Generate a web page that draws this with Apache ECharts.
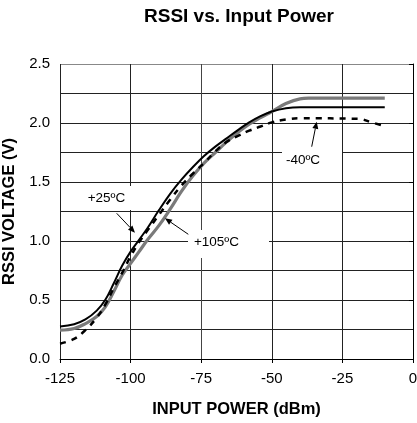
<!DOCTYPE html>
<html>
<head>
<meta charset="utf-8">
<script src="https://cdn.jsdelivr.net/npm/echarts@6/dist/echarts.min.js"></script>
<style>
html,body{margin:0;padding:0;background:#fff;}
#chart{width:417px;height:423px;}
</style>
</head>
<body>
<div id="chart"></div>
<script>
// ---- data ----
const xTicks = [-125, -100, -75, -50, -25, 0];
const yTicks = [0.0, 0.5, 1.0, 1.5, 2.0, 2.5];

const p25Power = [-125, -120, -116, -112, -109, -106, -103, -100, -97, -94, -90, -86, -82, -78, -74, -70, -66, -62, -58, -54, -50, -45, -40, -10];
const p25Volt  = [0.276, 0.295, 0.335, 0.41, 0.50, 0.64, 0.79, 0.91, 1.01, 1.11, 1.26, 1.40, 1.52, 1.625, 1.72, 1.80, 1.87, 1.94, 2.005, 2.058, 2.097, 2.125, 2.134, 2.134];

const p105Power = [-125, -120, -116, -112, -109, -106, -103, -100, -97, -94, -90, -86, -82, -78, -74, -70, -66, -62, -58, -54, -50, -45, -40, -37, -10];
const p105Volt  = [0.244, 0.258, 0.30, 0.36, 0.44, 0.57, 0.71, 0.81, 0.91, 1.01, 1.13, 1.27, 1.42, 1.55, 1.66, 1.75, 1.84, 1.92, 1.99, 2.045, 2.097, 2.165, 2.205, 2.21, 2.21];

const m40Power = [-125, -120, -116, -112, -109, -106, -103, -100, -97, -94, -90, -86, -82, -78, -74, -70, -66, -62, -58, -54, -50, -45, -40, -19, -15, -10.7];
const m40Volt  = [0.13, 0.17, 0.245, 0.35, 0.46, 0.60, 0.73, 0.87, 0.99, 1.09, 1.22, 1.35, 1.47, 1.57, 1.66, 1.76, 1.84, 1.89, 1.935, 1.97, 2.005, 2.03, 2.04, 2.035, 2.007, 1.978];

const labels = { t25: '+25ºC', t105: '+105ºC', tm40: '-40ºC' };

function pairs(xs, ys){ return xs.map((x,i)=>[x, ys[i]]); }

const FONT = 'Liberation Sans, Arial, sans-serif';
const chart = echarts.init(document.getElementById('chart'), null, {renderer:'canvas'});

function arrow(x1,y1,x2,y2){
  const ang = Math.atan2(y2-y1, x2-x1);
  const L = 7, W = 3;
  const bx = x2 - L*Math.cos(ang), by = y2 - L*Math.sin(ang);
  const px = -Math.sin(ang)*W, py = Math.cos(ang)*W;
  return [
    {type:'line', z:5, shape:{x1:x1,y1:y1,x2:bx,y2:by}, style:{stroke:'#000', lineWidth:1}},
    {type:'polygon', z:5, shape:{points:[[x2,y2],[bx+px,by+py],[bx-px,by-py]]}, style:{fill:'#000'}}
  ];
}

const option = {
  animation:false,
  backgroundColor:'#fff',
  title:{
    text:'RSSI vs. Input Power',
    left:239, top:7, textAlign:'center', padding:0,
    textStyle:{fontFamily:FONT, fontSize:19, fontWeight:'bold', color:'#000'}
  },
  grid:{left:60, right:4, top:64, bottom:64, containLabel:false, outerBoundsMode:'none'},
  xAxis:{
    type:'value', min:-125, max:0, interval:25,
    name:'INPUT POWER (dBm)', nameLocation:'middle', nameGap:42,
    nameTextStyle:{fontFamily:FONT, fontSize:16.5, fontWeight:'bold', color:'#000'},
    axisLine:{show:true, onZero:false, lineStyle:{color:'#000', width:1}},
    axisTick:{show:true, length:4, lineStyle:{color:'#000'}},
    axisLabel:{fontFamily:FONT, fontSize:15, color:'#000', margin:12},
    splitLine:{show:true, lineStyle:{color:['#222','#222','#444','#222','#222','#888'], width:1}}
  },
  yAxis:{
    type:'value', min:0, max:2.5, interval:0.5,
    name:'RSSI VOLTAGE (V)', nameLocation:'middle', nameGap:38,
    nameTextStyle:{fontFamily:FONT, fontSize:16.5, fontWeight:'bold', color:'#000'},
    axisLine:{show:true, lineStyle:{color:'#000', width:1}},
    axisTick:{show:true, length:4, lineStyle:{color:'#000'}},
    axisLabel:{fontFamily:FONT, fontSize:15, color:'#000', margin:10, formatter:v=>v.toFixed(1)},
    splitLine:{show:true, lineStyle:{color:['#222','#222','#222','#222','#222','#888'], width:1}},
    minorTick:{show:false, splitNumber:2},
    minorSplitLine:{show:true, lineStyle:{color:'#222', width:1}}
  },
  series:[
    {name:labels.t105, type:'line', data:pairs(p105Power,p105Volt), smooth:0.4, showSymbol:false, z:3,
     lineStyle:{color:'#7a7a7a', width:3.2}},
    {name:labels.tm40, type:'line', data:pairs(m40Power,m40Volt), smooth:0.4, showSymbol:false, z:4,
     lineStyle:{color:'#000', width:2.5, type:[6,6]}},
    {name:labels.t25, type:'line', data:pairs(p25Power,p25Volt), smooth:0.4, showSymbol:false, z:5,
     lineStyle:{color:'#000', width:2}}
  ]
};
chart.setOption(option);

const g = [];
// label boxes (white, hiding gridlines as in the reference)
g.push({type:'rect', z:1, shape:{x:80,y:186,width:54,height:24}, style:{fill:'#fff'}});
g.push({type:'text', z:6, x:106.5, y:198, style:{text:labels.t25, font:'13.5px '+FONT, fill:'#000', align:'center', verticalAlign:'middle'}});
g.push({type:'rect', z:1, shape:{x:188,y:230,width:81,height:28}, style:{fill:'#fff'}});
g.push({type:'text', z:6, x:216.5, y:242.5, style:{text:labels.t105, font:'13.5px '+FONT, fill:'#000', align:'center', verticalAlign:'middle'}});
g.push({type:'rect', z:1, shape:{x:282,y:147,width:60,height:25}, style:{fill:'#fff'}});
g.push({type:'text', z:6, x:303, y:160, style:{text:labels.tm40, font:'13.5px '+FONT, fill:'#000', align:'center', verticalAlign:'middle'}});
// arrows
g.push(...arrow(116.7,213.3,135,232.7));
g.push(...arrow(188.3,234.3,165,218.3));
g.push(...arrow(311.7,146.7,316.7,121.7));
chart.setOption({graphic:g});
</script>
</body>
</html>
